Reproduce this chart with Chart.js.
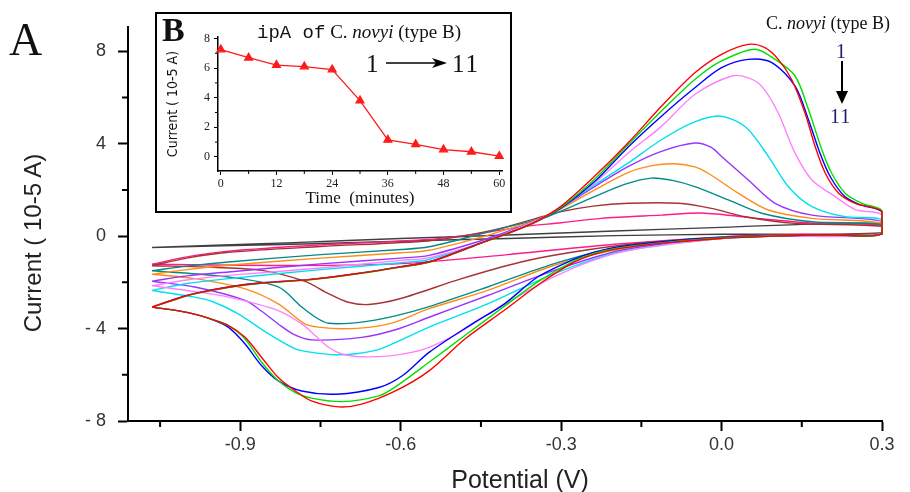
<!DOCTYPE html>
<html><head><meta charset="utf-8">
<script src="https://cdn.jsdelivr.net/npm/chart.js@4.4.0/dist/chart.umd.min.js"></script>
<style>
html,body{margin:0;padding:0;background:#fff;}
#wrap{position:relative;width:910px;height:492px;overflow:hidden;background:#fff;}
#main{position:absolute;left:0;top:0;}
#insetBox{position:absolute;left:155px;top:12px;width:353px;height:197px;border:2px solid #000;background:#fff;}
#inset{position:absolute;left:157px;top:14px;}
.t{position:absolute;white-space:nowrap;line-height:1;color:#111;}
.serif{font-family:'Liberation Serif','DejaVu Serif',serif;}
.ctr{transform:translate(-50%,-50%);}
.rot{transform:translate(-50%,-50%) rotate(-90deg);}
</style></head>
<body><div id="wrap">
<canvas id="main" width="910" height="492"></canvas>
<div id="insetBox"></div>
<canvas id="inset" width="353" height="197"></canvas>

<div class="t serif" style="left:9px;top:17px;font-size:46px;">A</div>
<div class="t rot" style="left:33px;top:243px;font-family:'Liberation Sans',sans-serif;font-size:24px;color:#222;">Current ( 10-5 A)</div>
<div class="t ctr" style="left:520px;top:479px;font-family:'Liberation Sans',sans-serif;font-size:25px;color:#222;">Potential (V)</div>
<div class="t serif" style="left:766px;top:14px;font-size:18px;">C. <i>novyi</i> (type B)</div>
<div class="t serif" style="left:836px;top:41px;font-size:20px;color:#1c1c6b;">1</div>
<svg class="t" style="left:835px;top:61px;" width="14" height="44"><line x1="7" y1="0" x2="7" y2="32" stroke="#000" stroke-width="2"/><polygon points="1,30 13,30 7,43" fill="#000"/></svg>
<div class="t serif" style="left:830px;top:106px;font-size:20px;color:#1c1c6b;letter-spacing:1px;">11</div>

<div class="t serif" style="left:162px;top:13px;font-size:34px;font-weight:bold;">B</div>
<div class="t" style="left:257px;top:22px;"><span style="font-family:'Liberation Mono',monospace;font-size:19px;">ipA of</span><span class="serif" style="font-size:19px;"> C. <i>novyi</i> (type B)</span></div>
<div class="t serif" style="left:366px;top:51px;font-size:25px;">1</div>
<svg class="t" style="left:386px;top:57px;" width="62" height="12"><line x1="0" y1="6" x2="50" y2="6" stroke="#000" stroke-width="1.6"/><polygon points="46,1 61,6 46,11 50,6" fill="#000"/></svg>
<div class="t serif" style="left:452px;top:51px;font-size:25px;letter-spacing:2px;">11</div>
</div>
<script>
// ---------- main chart data (Potential V, Current 10^-5 A), upper branch then lower branch ----------
const curve1 = [[-1.065,-3.07],[-1.02,-2.72],[-0.985,-2.49],[-0.92,-2.2],[-0.86,-2.03],[-0.77,-1.88],[-0.68,-1.62],[-0.6,-1.33],[-0.547,-1.12],[-0.5,-0.75],[-0.45,-0.3],[-0.4,0.12],[-0.35,0.6],[-0.3,1.3],[-0.238,2.58],[-0.175,4.03],[-0.1125,5.62],[-0.05,7.07],[0.0,7.87],[0.05,8.3],[0.081,8.16],[0.106,7.65],[0.131,6.78],[0.156,5.33],[0.175,3.88],[0.194,2.72],[0.219,1.86],[0.25,1.42],[0.3,1.06],
  [0.3,0.1],[0.2,0.06],[0.1,0.0],[0.0,-0.1],[-0.1,-0.28],[-0.19,-0.53],[-0.24,-0.8],[-0.28,-1.18],[-0.34,-2.06],[-0.407,-3.22],[-0.48,-4.45],[-0.547,-5.83],[-0.61,-6.7],[-0.673,-7.27],[-0.716,-7.39],[-0.767,-7.13],[-0.797,-6.7],[-0.829,-6.12],[-0.86,-5.25],[-0.891,-4.38],[-0.922,-3.87],[-0.96,-3.55],[-1.0,-3.3],[-1.065,-3.07]];
const curve2 = [[-1.065,-3.07],[-1.02,-2.73],[-0.985,-2.5],[-0.92,-2.21],[-0.86,-2.04],[-0.77,-1.89],[-0.68,-1.63],[-0.6,-1.34],[-0.547,-1.13],[-0.5,-0.76],[-0.45,-0.31],[-0.4,0.11],[-0.35,0.58],[-0.3,1.25],[-0.238,2.45],[-0.175,3.95],[-0.1125,5.41],[-0.05,6.78],[0.0,7.58],[0.0625,8.09],[0.1,7.65],[0.1375,6.93],[0.1625,5.48],[0.1875,3.74],[0.206,2.72],[0.231,1.86],[0.2625,1.42],[0.3,1.1],
  [0.3,0.1],[0.2,0.06],[0.1,0.0],[0.0,-0.08],[-0.1,-0.26],[-0.19,-0.5],[-0.24,-0.76],[-0.28,-1.12],[-0.345,-2.0],[-0.41,-3.1],[-0.48,-4.3],[-0.547,-5.46],[-0.61,-6.52],[-0.641,-6.91],[-0.71,-7.16],[-0.767,-7.01],[-0.797,-6.77],[-0.829,-6.26],[-0.86,-5.46],[-0.891,-4.45],[-0.922,-3.87],[-0.96,-3.55],[-1.0,-3.3],[-1.065,-3.07]];
const curve3 = [[-1.065,-3.07],[-1.02,-2.71],[-0.985,-2.48],[-0.92,-2.19],[-0.86,-2.02],[-0.77,-1.87],[-0.68,-1.61],[-0.6,-1.32],[-0.547,-1.11],[-0.5,-0.74],[-0.45,-0.29],[-0.4,0.12],[-0.35,0.58],[-0.3,1.22],[-0.238,2.35],[-0.175,3.85],[-0.1125,5.19],[-0.05,6.42],[0.0,7.29],[0.05,7.65],[0.094,7.51],[0.1375,6.49],[0.1625,5.04],[0.184,3.59],[0.203,2.58],[0.231,1.7],[0.26,1.35],[0.3,1.04],
  [0.3,0.1],[0.2,0.06],[0.1,0.0],[0.0,-0.06],[-0.1,-0.22],[-0.19,-0.46],[-0.24,-0.7],[-0.28,-1.04],[-0.344,-1.77],[-0.406,-2.93],[-0.47,-3.85],[-0.547,-5.03],[-0.597,-6.04],[-0.641,-6.55],[-0.72,-6.84],[-0.785,-6.7],[-0.829,-6.26],[-0.86,-5.61],[-0.891,-4.67],[-0.922,-3.95],[-0.96,-3.55],[-1.0,-3.3],[-1.065,-3.07]];
const curve4 = [[-1.065,-2.15],[-1.0,-1.9],[-0.922,-1.7],[-0.75,-1.38],[-0.6,-1.05],[-0.547,-0.93],[-0.45,-0.3],[-0.4,0.15],[-0.325,0.91],[-0.3,1.25],[-0.2375,2.3],[-0.175,3.59],[-0.1125,4.75],[-0.05,6.13],[0.019,6.93],[0.05,6.85],[0.075,6.49],[0.106,5.33],[0.1375,3.59],[0.169,2.43],[0.2125,1.71],[0.25,1.15],[0.3,0.92],
  [0.3,0.1],[0.1,0.0],[0.0,-0.1],[-0.19,-0.7],[-0.3125,-1.75],[-0.4375,-3.4],[-0.5,-4.3],[-0.547,-4.81],[-0.58,-5.03],[-0.62,-5.18],[-0.673,-5.22],[-0.71,-5.1],[-0.735,-4.81],[-0.76,-4.3],[-0.785,-3.8],[-0.829,-3.22],[-0.922,-2.64],[-1.0,-2.35],[-1.065,-2.15]];
const curve5 = [[-1.065,-2.35],[-1.0,-2.05],[-0.922,-1.84],[-0.75,-1.45],[-0.6,-1.15],[-0.547,-1.01],[-0.45,-0.3],[-0.4,0.15],[-0.325,0.9],[-0.2375,2.22],[-0.175,3.16],[-0.1125,4.17],[-0.06,4.85],[-0.0125,5.19],[0.02,5.05],[0.05,4.61],[0.0875,3.45],[0.125,2.14],[0.169,1.28],[0.231,0.84],[0.3,0.72],
  [0.3,0.1],[0.1,0.0],[0.0,-0.1],[-0.19,-0.68],[-0.3125,-1.62],[-0.4375,-2.93],[-0.547,-3.94],[-0.6,-4.5],[-0.641,-4.9],[-0.68,-5.08],[-0.722,-5.13],[-0.76,-5.05],[-0.797,-4.88],[-0.847,-4.23],[-0.904,-3.36],[-0.95,-2.85],[-0.985,-2.64],[-1.065,-2.35]];
const curve6 = [[-1.065,-1.95],[-1.0,-1.72],[-0.922,-1.55],[-0.75,-1.2],[-0.6,-0.95],[-0.547,-0.83],[-0.45,-0.2],[-0.4,0.2],[-0.325,0.9],[-0.2375,2.14],[-0.175,3.01],[-0.1125,3.67],[-0.05,4.03],[-0.02,3.85],[0.0,3.45],[0.05,2.43],[0.1,1.42],[0.169,0.91],[0.3,0.64],
  [0.3,0.1],[0.1,0.0],[0.0,-0.08],[-0.1875,-0.61],[-0.3125,-1.48],[-0.4375,-2.57],[-0.547,-3.51],[-0.61,-4.05],[-0.673,-4.38],[-0.766,-4.49],[-0.8,-4.25],[-0.829,-3.8],[-0.86,-3.25],[-0.891,-2.78],[-0.985,-2.2],[-1.065,-1.95]];
const curve7 = [[-1.065,-1.65],[-1.0,-1.45],[-0.922,-1.26],[-0.75,-0.95],[-0.6,-0.72],[-0.547,-0.61],[-0.45,-0.05],[-0.4,0.3],[-0.325,0.88],[-0.2375,2.0],[-0.175,2.75],[-0.13,3.05],[-0.0875,3.13],[-0.05,3.0],[-0.025,2.72],[0.031,1.86],[0.0875,1.13],[0.169,0.77],[0.3,0.56],
  [0.3,0.1],[0.1,0.0],[0.0,-0.06],[-0.1875,-0.55],[-0.3125,-1.26],[-0.4375,-2.35],[-0.547,-3.14],[-0.61,-3.72],[-0.66,-3.95],[-0.71,-4.01],[-0.75,-3.95],[-0.779,-3.8],[-0.829,-2.93],[-0.891,-2.28],[-0.985,-1.84],[-1.065,-1.65]];
const curve8 = [[-1.065,-1.5],[-1.0,-1.3],[-0.922,-1.12],[-0.75,-0.8],[-0.6,-0.58],[-0.547,-0.46],[-0.45,0.1],[-0.4,0.4],[-0.325,0.85],[-0.2375,1.71],[-0.18,2.25],[-0.131,2.51],[-0.09,2.4],[-0.05,2.14],[0.0125,1.57],[0.075,0.99],[0.169,0.62],[0.3,0.5],
  [0.3,0.1],[0.1,0.0],[0.0,-0.05],[-0.1875,-0.46],[-0.3125,-1.19],[-0.4375,-2.2],[-0.547,-3.05],[-0.61,-3.45],[-0.673,-3.72],[-0.735,-3.77],[-0.76,-3.5],[-0.785,-3.07],[-0.829,-2.2],[-0.922,-1.77],[-1.065,-1.5]];
const curve9 = [[-1.065,-1.28],[-1.0,-0.95],[-0.922,-0.7],[-0.75,-0.45],[-0.547,-0.2],[-0.45,0.15],[-0.41,0.35],[-0.35,0.75],[-0.3,1.06],[-0.24,1.3],[-0.175,1.42],[-0.081,1.42],[-0.019,1.2],[0.044,0.84],[0.1375,0.55],[0.3,0.42],
  [0.3,0.12],[0.1,0.05],[0.0,-0.05],[-0.15,-0.3],[-0.28,-0.7],[-0.375,-1.12],[-0.4875,-1.85],[-0.6,-2.7],[-0.66,-2.96],[-0.7,-2.85],[-0.735,-2.49],[-0.78,-1.95],[-0.86,-1.48],[-0.95,-1.35],[-1.065,-1.28]];
const curve10 = [[-1.065,-1.22],[-1.0,-0.9],[-0.922,-0.65],[-0.75,-0.38],[-0.547,-0.14],[-0.45,0.12],[-0.375,0.4],[-0.3,0.58],[-0.225,0.77],[-0.1125,0.91],[-0.0375,1.0],[0.075,0.75],[0.18,0.55],[0.3,0.47],
  [0.3,0.12],[0.15,0.08],[0.0,-0.03],[-0.2,-0.35],[-0.4,-0.8],[-0.6,-1.19],[-0.8,-1.27],[-1.065,-1.22]];
const curve11 = [[-1.065,-0.49],[-0.8,-0.28],[-0.6,-0.1],[-0.4,0.05],[-0.2,0.22],[0.0,0.38],[0.3,0.55],
  [0.3,0.15],[0.0,0.08],[-0.2,0.02],[-0.4,-0.1],[-0.6,-0.22],[-0.8,-0.35],[-1.065,-0.49]];
const curveColors = ['#ff0000','#00e000','#0000ff','#ff80ff','#00e0ee','#9933ff','#ff8c1a','#008b8b','#a83232','#ff1a8c','#404040'];

const xMajorTicks = [-0.9,-0.6,-0.3,0.0,0.3];
const xTickLabels = ['-0.9','-0.6','-0.3','0.0','0.3'];
const xMinorTicks = [-1.05,-0.75,-0.45,-0.15,0.15];
const yMajorTicks = [-8,-4,0,4,8];
const yTickLabels = ['- 8','- 4','0','4','8'];
const yMinorTicks = [-6,-2,2,6];

// ---------- inset data ----------
const insetTime = [0,6,12,18,24,30,36,42,48,54,60];
const insetIpA = [7.25,6.7,6.2,6.1,5.9,3.8,1.15,0.85,0.5,0.35,0.05];
const insetXTicks = [0,12,24,36,48,60];
const insetXMinor = [6,18,30,42,54];
const insetYTicks = [0,2,4,6,8];
const insetYMinor = [1,3,5,7];

const minorTicks = {
  id:'minorTicks',
  afterDraw(chart, args, o){
    const {ctx, scales:{x,y}} = chart;
    ctx.save(); ctx.strokeStyle='#000'; ctx.lineWidth=o.width; ctx.beginPath();
    o.xs.forEach(v=>{const p=x.getPixelForValue(v); ctx.moveTo(p,y.bottom); ctx.lineTo(p,y.bottom+o.len);});
    o.ys.forEach(v=>{const p=y.getPixelForValue(v); ctx.moveTo(x.left,p); ctx.lineTo(x.left-o.len,p);});
    ctx.stroke(); ctx.restore();
  }
};

const curves = [curve1,curve2,curve3,curve4,curve5,curve6,curve7,curve8,curve9,curve10,curve11];
new Chart(document.getElementById('main'), {
  type:'scatter',
  data:{datasets: curves.map((c,i)=>({
    label:'curve '+(i+1),
    data:c.map(p=>({x:p[0],y:p[1]})),
    showLine:true, borderColor:curveColors[i], borderWidth:1.4, pointRadius:0, tension:0.3, fill:false, clip:6
  }))},
  options:{
    responsive:false, animation:false, events:[],
    layout:{padding:{left:0,top:27,right:28,bottom:0}},
    plugins:{legend:{display:false},tooltip:{enabled:false},
      minorTicks:{xs:xMinorTicks, ys:yMinorTicks, len:6, width:2}},
    scales:{
      x:{type:'linear', min:-1.11, max:0.3,
        afterBuildTicks:s=>{s.ticks = xMajorTicks.map(v=>({value:v}));},
        afterFit:s=>{s.height=71;},
        border:{display:true,color:'#000',width:2},
        grid:{drawOnChartArea:false, drawTicks:true, tickLength:10, tickWidth:2, tickColor:'#000', color:'#000'},
        ticks:{callback:(v,i)=>xTickLabels[i], autoSkip:false, maxRotation:0, padding:3, color:'#333',
          font:{family:'Liberation Sans', size:18}}
      },
      y:{type:'linear', min:-8, max:9.05,
        afterBuildTicks:s=>{s.ticks = yMajorTicks.map(v=>({value:v}));},
        afterFit:s=>{s.width=128;},
        border:{display:true,color:'#000',width:2},
        grid:{drawOnChartArea:false, drawTicks:true, tickLength:10, tickWidth:2, tickColor:'#000', color:'#000'},
        ticks:{callback:(v,i)=>yTickLabels[i], autoSkip:false, padding:12, color:'#333',
          font:{family:'Liberation Sans', size:18}}
      }
    }
  },
  plugins:[minorTicks]
});

new Chart(document.getElementById('inset'), {
  type:'line',
  data:{datasets:[{label:'ipA', data:insetTime.map((t,i)=>({x:t,y:insetIpA[i]})),
    borderColor:'#ff1a1a', backgroundColor:'#ff1a1a', borderWidth:1.3, pointStyle:'triangle', pointRadius:4.5, tension:0, clip:8}]},
  options:{
    responsive:false, animation:false, events:[],
    layout:{padding:{left:0,top:23,right:8,bottom:0}},
    plugins:{legend:{display:false},tooltip:{enabled:false},
      minorTicks:{xs:insetXMinor, ys:insetYMinor, len:3, width:1}},
    scales:{
      x:{type:'linear', min:-0.6, max:60.6,
        afterBuildTicks:s=>{s.ticks = insetXTicks.map(v=>({value:v}));},
        afterFit:s=>{s.height=40;},
        border:{display:true,color:'#000',width:1.5},
        grid:{drawOnChartArea:false, drawTicks:true, tickLength:4, tickWidth:1, tickColor:'#000', color:'#000'},
        ticks:{callback:(v)=>String(v), autoSkip:false, maxRotation:0, padding:2, color:'#222',
          font:{family:'Liberation Serif', size:12}},
        title:{display:true, text:'Time  (minutes)', color:'#111', font:{family:'Liberation Serif', size:17}, padding:{top:0,bottom:2}}
      },
      y:{type:'linear', min:-0.95, max:8.1,
        afterBuildTicks:s=>{s.ticks = insetYTicks.map(v=>({value:v}));},
        afterFit:s=>{s.width=61;},
        border:{display:true,color:'#000',width:1.5},
        grid:{drawOnChartArea:false, drawTicks:true, tickLength:4, tickWidth:1, tickColor:'#000', color:'#000'},
        ticks:{callback:(v)=>String(v), autoSkip:false, padding:4, color:'#222',
          font:{family:'Liberation Serif', size:12}},
        title:{display:true, text:'Current ( 10-5 A)', color:'#111', font:{family:"'Liberation Sans Narrow','DejaVu Sans Condensed',sans-serif", size:14}, padding:{top:8,bottom:0}}
      }
    }
  },
  plugins:[minorTicks]
});
</script>
</body></html>
